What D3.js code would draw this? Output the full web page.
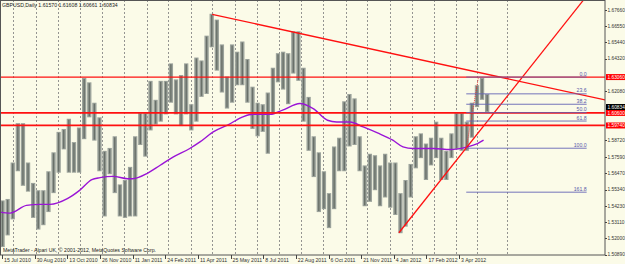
<!DOCTYPE html>
<html>
<head>
<meta charset="utf-8">
<script src="https://cdn.jsdelivr.net/npm/d3@7"></script>
<style>
  body { margin: 0; background: #fbfbe8; }
  svg { display: block; font-family: "Liberation Sans", Arial, sans-serif; }
</style>
</head>
<body>
<div id="chart"></div>
<script>
const weekHigh = [1.5460,1.5470,1.5720,1.5990,1.5990,1.5720,1.5580,1.5530,1.5530,1.5660,
  1.5790,1.5930,1.5950,1.6020,1.5860,1.5960,1.6300,1.6270,1.6130,1.6030,
  1.5800,1.5820,1.5900,1.5570,1.5600,1.5690,1.5900,1.6060,1.6060,1.6280,
  1.6150,1.6280,1.6280,1.6400,1.6290,1.6320,1.6400,1.6120,1.6440,1.6420,
  1.6590,1.6740,1.6700,1.6530,1.6310,1.6530,1.6480,1.6550,1.6430,1.6240,
  1.6130,1.6120,1.6200,1.6370,1.6470,1.6480,1.6470,1.6620,1.6620,1.6370,
  1.6170,1.5900,1.5790,1.5660,1.5510,1.5830,1.5890,1.6140,1.6190,1.6160,
  1.5900,1.5700,1.5780,1.5770,1.5700,1.5780,1.5720,1.5720,1.5510,1.5600,
  1.5710,1.5900,1.5920,1.5850,1.5890,1.6000,1.5890,1.5800,1.5920,1.6060,
  1.6060,1.6000,1.6130,1.6250,1.6300,1.6190];
const weekLow = [1.5140,1.5220,1.5330,1.5660,1.5560,1.5520,1.5340,1.5260,1.5290,1.5380,
  1.5510,1.5650,1.5810,1.5650,1.5650,1.5650,1.5880,1.6030,1.5870,1.5660,
  1.5350,1.5640,1.5510,1.5350,1.5340,1.5350,1.5350,1.5840,1.5760,1.5940,
  1.5980,1.6000,1.6050,1.6130,1.6050,1.5970,1.6050,1.5940,1.6000,1.6170,
  1.6190,1.6510,1.6350,1.6200,1.6090,1.6130,1.6250,1.6250,1.6130,1.5950,
  1.5900,1.5930,1.5780,1.6060,1.6270,1.6220,1.6120,1.6330,1.6280,1.6000,
  1.5800,1.5620,1.5380,1.5400,1.5270,1.5400,1.5660,1.5660,1.5830,1.5840,
  1.5660,1.5420,1.5450,1.5530,1.5420,1.5480,1.5410,1.5360,1.5235,1.5280,
  1.5480,1.5680,1.5750,1.5600,1.5700,1.5750,1.5600,1.5600,1.5750,1.5810,
  1.5800,1.5800,1.5890,1.6100,1.6150,1.6066];

// moving average (purple), [bar index, price]
const maBars   = [0,10,26,39,49,66,78,90,98,111,125,130,144,157,170,186,196,209,223,238,248,265,277,294,307,321,330,343,356,370,385,395,405,425,441,458,468,474];
const maPrices = [1.5380,1.5373,1.5426,1.5433,1.5433,1.5472,1.5529,1.5602,1.5616,1.5625,1.5609,1.5609,1.5644,1.5701,1.5758,1.5816,1.5861,1.5930,1.5976,1.6033,1.6051,1.6051,1.6079,1.6125,1.6090,1.6010,1.5998,1.5998,1.5964,1.5923,1.5873,1.5827,1.5816,1.5816,1.5809,1.5827,1.5850,1.5873];

// horizontal red levels
const levelPrices = [1.6306, 1.6060, 1.5974];
const levelLabels = ["1.63060", "1.60600", "1.59740"];
const lastPrice = 1.60834;

// trendlines [bar, price]
const trendDown = [[208, 1.6736], [593, 1.6149]];
const trendUp   = [[391, 1.5238], [572, 1.6835]];

// fibonacci retracement
const fibFrom = [457, 1.5818];
const fibTo   = [469, 1.6306];
const fibEndBar = 575;
const fibLevels = [0, 0.236, 0.382, 0.5, 0.618, 1, 1.618];
const fibNames  = ["0.0", "23.6", "38.2", "50.0", "61.8", "100.0", "161.8"];

// axes (ticks hidden behind the price tags are left out)
const priceTicks = [1.67660,1.66550,1.65440,1.64320,1.62080,1.58720,1.57590,1.56470,1.55340,1.54230,1.53110,1.52000,1.50890];
const dateLabels = ["15 Jul 2010","30 Aug 2010","13 Oct 2010","26 Nov 2010","11 Jan 2011","24 Feb 2011","11 Apr 2011","25 May 2011","8 Jul 2011","22 Aug 2011","6 Oct 2011","21 Nov 2011","4 Jan 2012","17 Feb 2012","3 Apr 2012"];
const dateBars = [2,34,66,98,130,162,194,226,258,290,322,354,386,418,450];
const gridBars = [13,35,57,78,100,122,144,165,187,208,230,252,273,295,317,339,360,382,404,425,447,468,497];

const width = 625, height = 264;
const plotRight = 605, plotBottom = 255;
const fs = 5.2;
const axisFs = 4.8;

const svg = d3.select("#chart").append("svg")
  .attr("width", width)
  .attr("height", height);

svg.append("rect").attr("width", width).attr("height", height).attr("fill", "#fbfbe8");

const x = d3.scaleLinear().domain([0, 593]).range([0, plotRight]);
const y = d3.scaleLinear().domain([1.5089, 1.6766]).range([254.5, 10]);

svg.append("clipPath").attr("id", "clip")
  .append("rect").attr("x", 0).attr("y", 0).attr("width", plotRight).attr("height", plotBottom);

const plot = svg.append("g").attr("clip-path", "url(#clip)");

// vertical dashed grid
plot.selectAll(".grid").data(gridBars).enter().append("line")
  .attr("x1", d => Math.round(x(d)) + 0.5).attr("x2", d => Math.round(x(d)) + 0.5)
  .attr("y1", 0).attr("y2", plotBottom)
  .attr("stroke", "#7a7a7a").attr("stroke-width", 0.8)
  .attr("stroke-dasharray", "2,2");

// price bars: light body + darker stroke inside, like the packed daily bars
const weeks = weekHigh.map((h, i) => ({i: i, h: h, l: weekLow[i]}));
const bw = x(5) - x(0);
plot.selectAll(".bar").data(weeks).enter().append("rect")
  .attr("x", d => x(d.i * 5) + 0.4)
  .attr("width", bw - 0.8)
  .attr("y", d => y(d.h))
  .attr("height", d => y(d.l) - y(d.h))
  .attr("fill", "#9ba29b");
plot.selectAll(".barc").data(weeks).enter().append("line")
  .attr("x1", d => x(d.i * 5) + bw / 2).attr("x2", d => x(d.i * 5) + bw / 2)
  .attr("y1", d => y(d.h) + 1).attr("y2", d => y(d.l) - 1)
  .attr("stroke", "#697069").attr("stroke-width", 1.4);

// moving average
const ma = maBars.map((b, i) => [b, maPrices[i]]);
plot.append("path").datum(ma)
  .attr("d", d3.line().x(d => x(d[0])).y(d => y(d[1])).curve(d3.curveMonotoneX))
  .attr("fill", "none").attr("stroke", "#9a14d6").attr("stroke-width", 1.4);

// horizontal red levels
plot.selectAll(".level").data(levelPrices).enter().append("line")
  .attr("x1", 0).attr("x2", plotRight)
  .attr("y1", d => y(d)).attr("y2", d => y(d))
  .attr("stroke", "#ff1010").attr("stroke-width", (d, i) => i === 0 ? 1.3 : 1.8);

// trendlines
const tl = d3.line().x(d => x(d[0])).y(d => y(d[1]));
[trendDown, trendUp].forEach(t => {
  plot.append("path").datum(t).attr("d", tl)
    .attr("fill", "none").attr("stroke", "#ff1010").attr("stroke-width", 1.3);
});

// fibonacci
plot.append("path").datum([fibFrom, fibTo]).attr("d", tl)
  .attr("fill", "none").attr("stroke", "#ff2020").attr("stroke-width", 0.8)
  .attr("stroke-dasharray", "1,1");
const fibRange = fibTo[1] - fibFrom[1];
const fibs = fibLevels.map((r, i) => ({p: fibTo[1] - r * fibRange, name: fibNames[i]}));
plot.selectAll(".fib").data(fibs).enter().append("line")
  .attr("x1", x(fibFrom[0])).attr("x2", x(fibEndBar))
  .attr("y1", d => y(d.p)).attr("y2", d => y(d.p))
  .attr("stroke", "#6464b4").attr("stroke-width", 0.9);
plot.selectAll(".fibtxt").data(fibs).enter().append("text")
  .attr("x", x(fibEndBar)).attr("y", d => y(d.p) - 1.5)
  .attr("text-anchor", "end").attr("font-size", fs)
  .attr("fill", "#5a5aa8").text(d => d.name);

// header + footer
svg.append("text").attr("x", 2).attr("y", 7).attr("font-size", fs).attr("fill", "#222")
  .text("GBPUSD,Daily  1.61570 1.61608 1.60661 1.60834");
svg.append("text").attr("x", 3).attr("y", 252).attr("font-size", fs).attr("fill", "#222")
  .text("MetaTrader - Alpari UK, \u00a9 2001-2012, MetaQuotes Software Corp.");

// frame
svg.append("rect").attr("x", 0.5).attr("y", 0.5).attr("width", plotRight - 0.5).attr("height", plotBottom - 0.5)
  .attr("fill", "none").attr("stroke", "#555").attr("stroke-width", 1);

// right price axis
const yAxis = svg.append("g");
yAxis.selectAll("line").data(priceTicks).enter().append("line")
  .attr("x1", plotRight).attr("x2", plotRight + 2)
  .attr("y1", d => Math.round(y(d)) + 0.5).attr("y2", d => Math.round(y(d)) + 0.5)
  .attr("stroke", "#444");
yAxis.selectAll("text").data(priceTicks).enter().append("text")
  .attr("x", plotRight + 2.5).attr("y", d => y(d) + 1.7)
  .attr("font-size", axisFs).attr("fill", "#333")
  .text(d => d.toFixed(5));

// red level tags and current price tag (black tag sits just above its line)
const tags = levelPrices.map((p, i) => ({p: p, t: levelLabels[i], c: "#ff0000", dy: 0}));
tags.push({p: lastPrice, t: lastPrice.toFixed(5), c: "#000", dy: -2.5});
const tag = svg.selectAll(".tag").data(tags).enter().append("g");
tag.append("rect").attr("x", plotRight + 1).attr("y", d => y(d.p) + d.dy - 3)
  .attr("width", width - plotRight - 1).attr("height", 6).attr("fill", d => d.c);
tag.append("text").attr("x", plotRight + 2.5).attr("y", d => y(d.p) + d.dy + 1.7)
  .attr("font-size", axisFs).attr("fill", "#fff").text(d => d.t);

// bottom time axis
const xAxis = svg.append("g");
xAxis.selectAll("line").data(dateBars).enter().append("line")
  .attr("x1", d => Math.round(x(d)) + 0.5).attr("x2", d => Math.round(x(d)) + 0.5)
  .attr("y1", plotBottom).attr("y2", plotBottom + 4).attr("stroke", "#444");
xAxis.selectAll("text").data(dateLabels).enter().append("text")
  .attr("x", (d, i) => x(dateBars[i]) + 2).attr("y", 262)
  .attr("font-size", fs).attr("fill", "#333").text(d => d);
</script>
</body>
</html>
